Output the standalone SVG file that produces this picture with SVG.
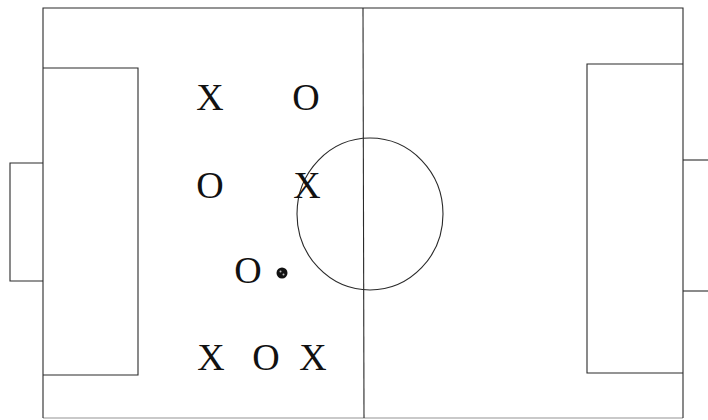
<svg xmlns="http://www.w3.org/2000/svg" width="708" height="420" viewBox="0 0 708 420">
<style>
.ln{fill:none;stroke:#2a2a2a;stroke-width:1.1}
.pl{font-family:"Liberation Serif","Times New Roman",serif;font-size:38px;fill:#111;text-anchor:middle}
</style>
<rect width="708" height="420" fill="#fff"/>
<g id="field">
<polyline class="ln" points="43,418 43,8 683,8 683,418"/>
<line class="ln" x1="43" y1="418" x2="683" y2="418" stroke-opacity="0.5"/>
<line class="ln" x1="363" y1="8" x2="364" y2="418"/>
<ellipse class="ln" cx="370" cy="214" rx="73" ry="76"/>
<polyline class="ln" points="43,68 138,68 138,375 43,375"/>
<polyline class="ln" points="43,163 10,163 10,281 43,281"/>
<polyline class="ln" points="683,64 587,64 587,373 683,373"/>
<polyline class="ln" points="683,160 708,160"/>
<polyline class="ln" points="683,291 708,291"/>
</g>
<g id="players">
<text class="pl" x="210" y="110">X</text>
<text class="pl" x="306" y="110">O</text>
<text class="pl" x="210" y="198">O</text>
<text class="pl" x="307" y="198">X</text>
<text class="pl" x="248" y="283">O</text>
<text class="pl" x="211" y="370">X</text>
<text class="pl" x="266" y="370">O</text>
<text class="pl" x="313" y="370">X</text>
</g>
<g id="ball">
<circle cx="282" cy="273" r="5.5" fill="#111"/>
<circle cx="280.5" cy="271.5" r="1" fill="#bbb"/>
<circle cx="283.5" cy="274.5" r="1" fill="#bbb"/>
</g>
</svg>
